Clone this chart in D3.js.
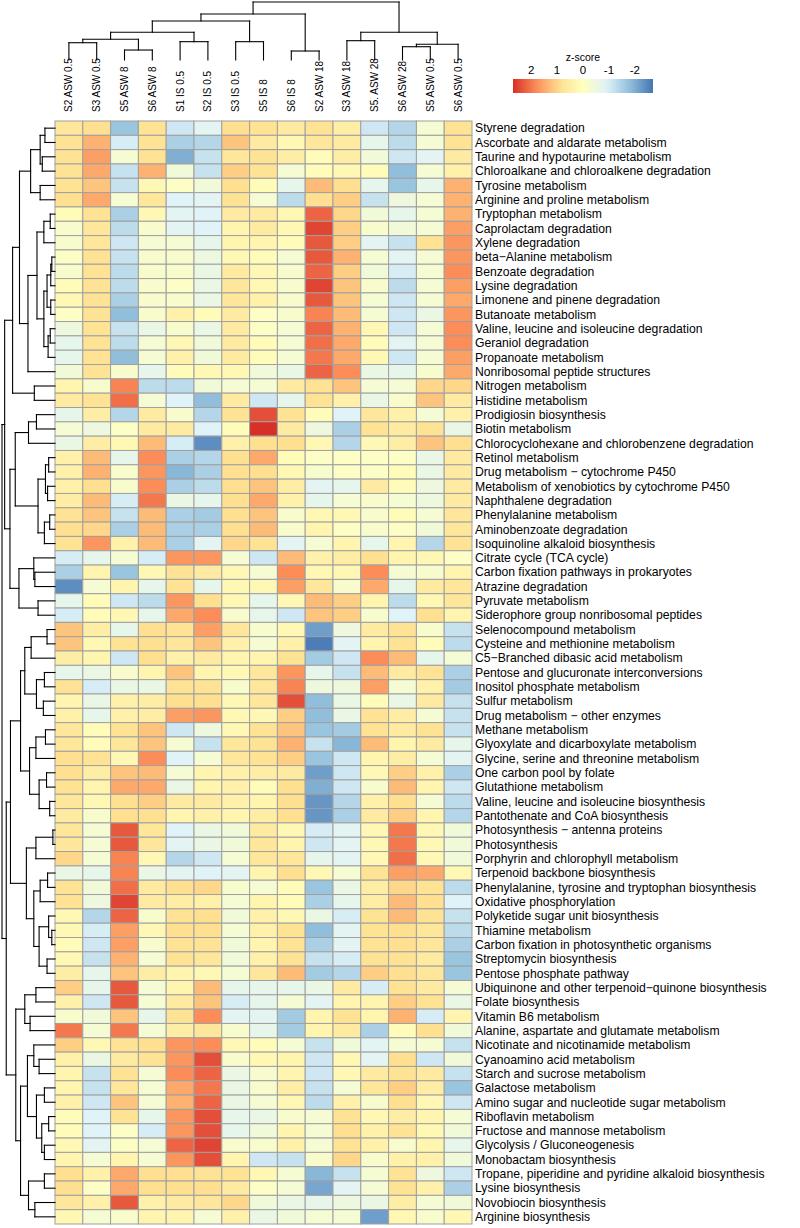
<!DOCTYPE html>
<html><head><meta charset="utf-8">
<script src="https://cdn.jsdelivr.net/npm/d3@7"></script>
<style>body{margin:0;background:#fff;} text{font-family:"Liberation Sans", Arial, Helvetica, sans-serif;fill:#000;}</style>
</head><body><svg id="c" width="800" height="1228"></svg>
<script>
const colLabels = ["S2 ASW 0.5","S3 ASW 0.5","S5 ASW 8","S6 ASW 8","S1 IS 0.5","S2 IS 0.5","S3 IS 0.5","S5 IS 8","S6 IS 8","S2 ASW 18","S3 ASW 18","S5. ASW 28","S6 ASW 28","S5 ASW 0.5","S6 ASW 0.5"];
const rowLabels = ["Styrene degradation","Ascorbate and aldarate metabolism","Taurine and hypotaurine metabolism","Chloroalkane and chloroalkene degradation","Tyrosine metabolism","Arginine and proline metabolism","Tryptophan metabolism","Caprolactam degradation","Xylene degradation","beta\u2212Alanine metabolism","Benzoate degradation","Lysine degradation","Limonene and pinene degradation","Butanoate metabolism","Valine, leucine and isoleucine degradation","Geraniol degradation","Propanoate metabolism","Nonribosomal peptide structures","Nitrogen metabolism","Histidine metabolism","Prodigiosin biosynthesis","Biotin metabolism","Chlorocyclohexane and chlorobenzene degradation","Retinol metabolism","Drug metabolism \u2212 cytochrome P450","Metabolism of xenobiotics by cytochrome P450","Naphthalene degradation","Phenylalanine metabolism","Aminobenzoate degradation","Isoquinoline alkaloid biosynthesis","Citrate cycle (TCA cycle)","Carbon fixation pathways in prokaryotes","Atrazine degradation","Pyruvate metabolism","Siderophore group nonribosomal peptides","Selenocompound metabolism","Cysteine and methionine metabolism","C5\u2212Branched dibasic acid metabolism","Pentose and glucuronate interconversions","Inositol phosphate metabolism","Sulfur metabolism","Drug metabolism \u2212 other enzymes","Methane metabolism","Glyoxylate and dicarboxylate metabolism","Glycine, serine and threonine metabolism","One carbon pool by folate","Glutathione metabolism","Valine, leucine and isoleucine biosynthesis","Pantothenate and CoA biosynthesis","Photosynthesis \u2212 antenna proteins","Photosynthesis","Porphyrin and chlorophyll metabolism","Terpenoid backbone biosynthesis","Phenylalanine, tyrosine and tryptophan biosynthesis","Oxidative phosphorylation","Polyketide sugar unit biosynthesis","Thiamine metabolism","Carbon fixation in photosynthetic organisms","Streptomycin biosynthesis","Pentose phosphate pathway","Ubiquinone and other terpenoid\u2212quinone biosynthesis","Folate biosynthesis","Vitamin B6 metabolism","Alanine, aspartate and glutamate metabolism","Nicotinate and nicotinamide metabolism","Cyanoamino acid metabolism","Starch and sucrose metabolism","Galactose metabolism","Amino sugar and nucleotide sugar metabolism","Riboflavin metabolism","Fructose and mannose metabolism","Glycolysis / Gluconeogenesis","Monobactam biosynthesis","Tropane, piperidine and pyridine alkaloid biosynthesis","Lysine biosynthesis","Novobiocin biosynthesis","Arginine biosynthesis"];
const zscores = [
[0.7,0.9,-1.7,0.8,-1.1,-0.8,0.9,0.8,0.6,0.8,0.5,-1.1,-1.4,-0.3,0.8],
[0.8,1.4,-1.0,0.8,-1.5,-1.4,1.2,0.6,0.2,0.7,0.6,-0.7,-1.3,-0.3,0.8],
[0.8,1.6,-0.3,0.8,-2.0,-1.2,0.7,0.8,0.5,0.1,0.5,-0.4,-1.1,-0.8,0.6],
[0.8,1.5,-1.2,1.4,-0.4,-1.2,1.1,0.8,-0.3,0.1,0.2,0.1,-1.8,-0.3,0.4],
[0.8,1.2,-1.2,0.2,-0.1,-0.4,0.9,0.1,-0.7,1.3,0.9,-0.7,-1.7,-0.7,1.4],
[0.9,1.5,-0.3,0.7,-0.9,-0.8,0.8,-0.3,-1.3,0.9,1.1,-1.2,-0.5,-0.3,1.4],
[0.1,0.8,-1.5,0.2,-0.8,-0.9,0.6,0.6,0.2,2.2,1.0,-0.4,-0.7,-0.3,1.4],
[-0.2,0.7,-1.3,-0.2,-0.8,-0.9,0.3,0.6,0.2,2.5,1.1,-0.2,-0.4,-0.3,1.6],
[-0.2,0.7,-1.1,-0.3,-0.3,-0.7,0.3,0.3,0.1,2.3,1.1,-0.8,-1.2,0.8,1.7],
[-0.1,0.8,-1.2,-0.2,-0.2,-0.5,0.2,0.1,-0.3,2.3,1.4,-0.3,-0.8,-0.3,1.7],
[-0.2,0.8,-1.3,-0.2,-0.2,-0.6,0.6,0.2,-0.2,2.2,1.1,-0.4,-1.0,-0.3,1.8],
[0.1,0.8,-1.3,-0.2,-0.1,-0.6,0.7,0.2,-0.2,2.5,1.2,-0.2,-1.3,-0.3,1.6],
[0.2,0.8,-1.5,-0.2,-0.2,-0.6,0.7,0.4,-0.2,2.3,1.2,-0.3,-1.1,-0.3,1.5],
[-0.1,0.8,-1.8,-0.2,0.4,0.1,0.6,-0.1,-0.2,1.9,1.3,-0.3,-1.1,-0.6,1.7],
[-0.5,0.8,-1.2,-0.6,-0.2,-0.6,0.6,-0.1,-0.3,2.2,1.4,0.2,-1.1,-0.3,1.8],
[-0.7,0.8,-1.3,-0.3,0.2,-0.4,0.6,0.1,-0.3,2.1,1.5,0.1,-0.8,-0.3,1.8],
[-0.7,0.8,-1.8,-0.3,0.4,-0.4,0.6,0.1,-0.3,2.0,1.5,0.2,-1.1,-0.3,1.6],
[-0.4,0.8,-0.2,-0.7,0.1,0.2,0.2,-0.4,-0.6,2.2,1.8,-0.6,-0.7,-0.2,1.5],
[0.3,-0.2,1.9,-1.3,-1.3,-0.4,-0.3,-0.3,0.6,0.8,1.2,-0.3,-0.3,1.0,1.0],
[0.6,0.8,2.1,-0.3,-0.9,-1.8,0.6,-1.1,-0.7,0.8,0.4,-0.6,-0.2,1.2,0.6],
[-0.7,0.5,-1.4,0.6,-0.2,-1.4,0.8,2.4,0.8,0.1,-0.9,0.7,0.4,-0.3,0.4],
[-0.3,-0.5,-0.1,0.6,0.6,-0.9,0.1,2.7,0.6,-0.5,-1.5,0.8,0.6,0.8,-0.6],
[-0.6,0.5,0.2,1.3,-1.0,-2.4,0.4,0.9,0.9,0.2,-1.4,0.2,0.5,1.2,0.9],
[0.4,1.3,-0.7,1.8,-1.5,-1.4,0.9,1.5,0.1,-0.1,-0.1,-0.1,-0.1,-0.6,0.6],
[0.4,1.4,-0.2,1.7,-1.9,-1.5,0.9,0.9,0.2,-0.2,-0.1,-0.1,0.1,-0.6,0.6],
[0.4,0.9,-0.2,1.8,-1.5,-1.3,0.9,1.2,0.5,-0.8,-0.7,0.6,0.1,-0.5,0.6],
[0.5,1.3,-1.0,2.0,-0.6,-0.7,0.9,1.5,0.4,-0.7,-0.3,-0.2,-0.3,-0.5,0.6],
[0.8,1.2,-1.2,1.3,-1.5,-1.6,0.9,1.2,-0.2,0.2,0.2,-0.2,0.1,-0.3,0.7],
[0.9,1.0,-1.5,1.3,-1.5,-1.5,0.9,1.3,-0.2,0.3,-0.1,-0.2,-0.1,-0.4,0.7],
[0.8,1.7,0.4,1.3,-1.5,-0.8,1.0,0.8,-0.8,-0.3,0.3,-0.7,0.3,-1.4,0.8],
[-1.0,-0.7,-0.3,-1.0,1.7,1.7,-0.3,-1.1,1.3,0.4,0.5,0.9,0.3,0.2,-0.1],
[-1.5,0.3,-1.7,0.2,0.8,0.6,0.2,-0.3,1.8,0.2,0.2,1.8,-0.3,-0.2,0.3],
[-2.4,-0.3,0.3,-0.7,0.8,-0.7,0.2,0.2,1.6,0.7,-0.2,1.5,-0.7,0.6,0.7],
[-0.7,0.1,-1.1,-1.3,1.7,0.9,0.2,-0.7,0.2,1.3,1.1,0.3,-1.3,0.2,0.7],
[-1.0,0.1,0.2,-0.7,1.5,1.8,-0.2,-0.7,-1.1,1.2,1.1,-0.2,-0.9,0.9,0.3],
[1.2,0.5,-0.7,0.9,0.8,1.6,0.7,-0.2,0.2,-2.2,-0.5,0.6,0.8,-0.2,-1.2],
[1.2,0.2,0.8,0.9,0.7,1.2,0.4,-0.3,0.4,-2.6,-0.8,0.3,0.8,0.1,-1.3],
[0.5,0.3,-1.1,0.9,0.4,0.6,0.3,0.3,0.8,-1.6,-1.1,1.8,1.3,-0.7,-0.3],
[-0.7,-0.6,-0.2,0.3,1.2,0.3,0.2,0.7,1.7,-0.7,-1.2,1.3,0.6,0.8,-1.5],
[0.8,-1.0,-0.6,-0.6,0.8,0.8,-0.2,0.7,1.9,-0.5,-0.5,1.6,-0.3,0.4,-1.6],
[0.3,-0.6,0.4,0.5,0.9,0.9,0.2,0.7,2.4,-1.8,-0.6,0.1,-0.6,0.6,-1.2],
[0.4,-0.7,0.4,0.5,1.6,1.7,0.2,0.2,1.1,-1.8,-0.6,0.8,0.5,-0.3,-1.2],
[0.7,0.1,0.8,1.2,-1.1,-0.5,0.2,0.8,1.2,-1.7,-1.6,0.8,0.6,0.8,-1.2],
[0.7,0.1,0.7,1.2,-0.3,-1.2,0.7,0.8,1.4,-1.2,-1.9,1.3,0.3,0.6,-0.7],
[0.9,0.8,0.2,1.8,-0.9,-0.3,0.7,0.8,1.1,-1.7,-1.1,0.3,0.5,-0.3,-0.8],
[0.9,0.5,1.2,1.3,-0.3,0.3,0.4,0.5,0.6,-2.2,-1.1,0.2,1.1,0.4,-1.5],
[0.8,0.3,1.5,1.5,-0.6,0.3,0.4,0.1,0.9,-2.0,-1.1,-0.2,1.3,0.3,-1.1],
[0.7,0.2,0.9,1.1,0.6,0.6,0.4,0.3,0.9,-2.3,-1.4,0.4,0.9,-0.3,-1.3],
[0.6,-0.2,0.9,0.9,0.3,0.4,0.3,0.5,0.9,-2.3,-1.5,0.6,1.1,0.3,-1.4],
[0.7,-0.3,2.3,0.7,-0.9,-0.6,-0.4,0.6,0.2,-1.0,-0.8,0.2,2.0,0.2,-0.4],
[0.7,-0.3,2.3,0.7,-0.8,-0.6,-0.4,0.7,0.3,-1.1,-0.8,0.2,2.0,0.2,-0.4],
[1.0,-0.3,1.9,0.2,-1.4,-1.1,-0.3,0.7,0.7,-0.7,-0.8,0.2,2.1,0.2,-0.4],
[-0.6,-0.7,1.9,-0.6,-0.8,-0.9,-0.8,0.3,0.9,0.2,-0.3,0.8,1.6,1.5,0.2],
[0.8,-0.4,2.1,0.6,0.9,1.0,-0.2,-0.3,0.1,-1.7,-0.6,0.5,1.0,0.8,-1.3],
[0.8,-0.5,2.5,0.6,0.5,0.4,-0.3,0.3,0.1,-1.5,-0.7,0.5,1.3,0.9,-0.9],
[0.2,-1.4,2.2,-0.2,0.8,0.9,-0.4,0.4,0.2,-0.6,-1.0,0.8,1.3,0.8,-1.2],
[0.2,-1.0,1.6,0.2,0.9,0.9,-0.3,0.4,0.8,-1.8,-0.8,0.8,0.9,0.7,-1.3],
[0.1,-1.1,1.6,-0.2,0.8,0.8,-0.4,0.3,0.8,-1.5,-0.8,0.8,0.9,0.7,-1.5],
[0.2,-1.2,1.4,-0.3,0.8,0.7,-0.4,0.4,0.8,-1.2,-1.0,0.8,0.8,0.6,-1.7],
[0.5,-0.7,1.2,0.5,0.3,0.2,-0.3,0.7,1.3,-1.6,-1.4,1.1,0.9,0.7,-1.7],
[1.1,-0.7,2.3,-0.3,0.3,1.3,-0.7,-0.7,-0.7,-0.6,0.6,-1.0,0.8,0.6,-0.3],
[0.4,-1.1,2.3,-0.3,0.6,1.2,-1.0,-0.7,-0.3,-0.8,0.3,0.3,1.1,0.8,-0.6],
[-0.2,-0.4,1.2,-0.7,0.8,1.8,-0.8,-0.8,-1.6,0.3,0.8,0.3,1.4,-1.0,0.3],
[2.0,-0.3,2.0,-0.3,0.5,0.7,-0.2,-0.7,-1.6,0.3,0.6,-1.5,0.1,0.9,-0.4],
[1.1,0.2,0.8,0.9,1.7,1.8,0.2,0.1,-0.3,-1.2,-0.4,-0.8,-0.3,-0.3,-1.2],
[0.4,-0.6,0.6,0.8,1.7,2.4,-0.2,0.2,0.3,-1.1,0.2,-0.8,0.9,-1.1,-0.4],
[0.3,-1.2,0.8,-0.3,1.8,2.2,-0.6,-0.2,0.3,-1.1,0.2,0.6,0.8,0.6,-1.2],
[0.3,-1.2,0.7,-0.3,1.5,2.0,-0.6,-0.2,0.5,-1.2,-0.3,0.7,1.1,0.5,-1.7],
[0.4,-1.1,1.2,-0.3,1.4,2.2,-0.6,-0.3,0.2,-1.3,0.4,-0.2,0.9,0.2,-1.1],
[0.1,-0.9,0.8,-0.7,1.7,2.4,-0.7,-0.6,-0.2,-0.3,0.8,0.2,0.5,0.3,-0.3],
[0.1,-0.9,-0.1,-1.0,1.7,2.4,-0.7,-0.4,0.3,-0.3,0.9,0.4,0.8,0.2,-0.4],
[0.2,-0.8,-0.1,-0.3,2.2,2.5,-0.2,-0.2,0.4,-0.3,0.8,0.4,-0.2,0.3,-0.7],
[0.3,-0.3,0.3,-0.3,1.7,2.4,0.3,-1.1,-1.2,-0.2,1.0,-0.2,0.4,0.4,-0.4],
[0.9,0.4,1.5,0.9,0.9,0.8,0.8,0.2,-0.3,-1.9,-1.2,-0.3,0.8,-0.5,-1.1],
[0.9,-0.1,1.5,0.9,0.9,0.9,0.6,-0.1,-0.3,-2.1,-0.8,-0.3,0.8,0.4,-1.5],
[0.7,0.4,2.3,0.4,0.6,0.7,1.0,-0.4,-0.6,-0.7,-0.5,-0.6,0.5,-0.3,-0.4],
[0.2,-0.3,-0.2,0.3,0.3,-0.3,0.4,-0.6,-0.4,-0.3,-0.3,-2.2,0.2,-0.2,0.2]
];
// dendrograms: [height, left, right]; integers are leaf indices
const colTree = [100,[79.3,[67.2,[47.8,[35.7,[29.8,0,1],[17.2,2,3]],[31.6,4,5]],[31.6,6,7]],[15.5,8,9]],[47.8,[33.3,10,11],[27.1,[22.9,12,13],14]]];
const rowTop = [95,
  [80,[67,[46,[28,[19,0,1],[24,2,3]],[28,4,5]],[51,[34,[21,[9,6,7],8],[21,[15,[8,[6,9,10],11],[8,12,13]],[13,[9,14,15],16]]],17]],[39,18,19]],
  [85,[75,[50,[35,20,21],22],[32,[18,[12,23,24],[14,25,26]],[20,[10,27,28],29]]],[68,[40,30,[38,31,32]],[32,33,34]]]];
const rowMid = [84,
  [65,[57,[45,[15,35,36],37],[35,[20,38,39],[22,40,41]]],[48,[36,[18,42,43],44],[30,[16,45,46],[10,47,48]]]],
  [54,[36,[4,49,50],51],[40,[28,[14,52,53],54],[30,[12,55,[6,56,57]],[15,58,59]]]]];
const rowLow = [74,
  [57,[36,60,61],[47,62,63]],
  [65,[52,[40,64,[30,65,66]],[35,[20,67,68],[25,[12,69,70],[20,71,72]]]],[50,[20,73,74],[38,75,76]]]];
const rowTree = [100, rowTop, [92, rowMid, rowLow]];
const legendTicks = [2,1,0,-1,-2];
const colorStops = [2.7,1.8,0.9,0,-0.9,-1.8,-2.7];
const colorRange = ["#d73027","#fc8d59","#fee090","#ffffbf","#e0f3f8","#91bfdb","#4575b4"];

const svg = d3.select("#c");
const x = d3.scaleBand().domain(d3.range(colLabels.length)).range([55,472]);
const y = d3.scaleBand().domain(d3.range(rowLabels.length)).range([121,1224]);
const color = d3.scaleLinear().domain(colorStops).range(colorRange).clamp(true);

// cells
const cells = [];
zscores.forEach((r,i)=>r.forEach((v,j)=>cells.push({i,j,v})));
svg.append("g").selectAll("rect").data(cells).join("rect")
  .attr("x",d=>x(d.j)).attr("y",d=>y(d.i))
  .attr("width",x.bandwidth()).attr("height",y.bandwidth())
  .attr("fill",d=>color(d.v)).attr("stroke","#a0a0a0").attr("stroke-width",1);

// row labels
svg.append("g").selectAll("text").data(rowLabels).join("text")
  .attr("x",475).attr("y",(d,i)=>y(i)+y.bandwidth()/2).attr("dy","0.35em")
  .attr("font-size",12.2).text(d=>d);

// column labels
svg.append("g").selectAll("text").data(colLabels).join("text")
  .attr("transform",(d,i)=>`translate(${x(i)+x.bandwidth()/2},112) rotate(-90)`)
  .attr("dy","0.35em").attr("font-size",10).text(d=>d);

// dendrogram layout
function layout(node,pos){
  if(typeof node==="number") return {p:pos(node),h:0,kids:null};
  const a=layout(node[1],pos), b=layout(node[2],pos);
  return {p:(a.p+b.p)/2,h:node[0],kids:[a,b]};
}
function segs(n,out){ if(!n.kids) return out; n.kids.forEach(k=>{out.push({p0:k.p,h0:k.h,h1:n.h}); segs(k,out);}); out.push({across:true,h:n.h,pa:n.kids[0].p,pb:n.kids[1].p}); return out; }

// row dendrogram
const rh = d3.scaleLinear().domain([0,100]).range([55,2]);
const rRoot = layout(rowTree,i=>y(i)+y.bandwidth()/2);
svg.append("g").selectAll("line").data(segs(rRoot,[])).join("line")
  .attr("x1",d=>d.across?rh(d.h):rh(d.h0)).attr("x2",d=>d.across?rh(d.h):rh(d.h1))
  .attr("y1",d=>d.across?d.pa:d.p0).attr("y2",d=>d.across?d.pb:d.p0)
  .attr("stroke","#000").attr("stroke-width",1.1).attr("stroke-linecap","square");

// column dendrogram
const ch = d3.scaleLinear().domain([0,100]).range([60,2]);
const cRoot = layout(colTree,i=>x(i)+x.bandwidth()/2);
svg.append("g").selectAll("line").data(segs(cRoot,[])).join("line")
  .attr("y1",d=>d.across?ch(d.h):ch(d.h0)).attr("y2",d=>d.across?ch(d.h):ch(d.h1))
  .attr("x1",d=>d.across?d.pa:d.p0).attr("x2",d=>d.across?d.pb:d.p0)
  .attr("stroke","#000").attr("stroke-width",1.1).attr("stroke-linecap","square");

// legend
const lx = d3.scaleLinear().domain([2.7,-2.7]).range([513,653]);
const grad = svg.append("defs").append("linearGradient").attr("id","lg").attr("x1","0%").attr("x2","100%");
d3.range(0,1.0001,0.05).forEach(t=>grad.append("stop").attr("offset",t).attr("stop-color",color(2.7-5.4*t)));
svg.append("rect").attr("x",lx(2.7)).attr("y",79).attr("width",lx(-2.7)-lx(2.7)).attr("height",14).attr("fill","url(#lg)");
svg.append("g").selectAll("text").data(legendTicks).join("text")
  .attr("x",d=>lx(d)).attr("y",74).attr("text-anchor","middle").attr("font-size",11.5).text(d=>d);
svg.append("text").attr("x",583).attr("y",61).attr("text-anchor","middle").attr("font-size",10.5).text("z-score");
</script></body></html>
